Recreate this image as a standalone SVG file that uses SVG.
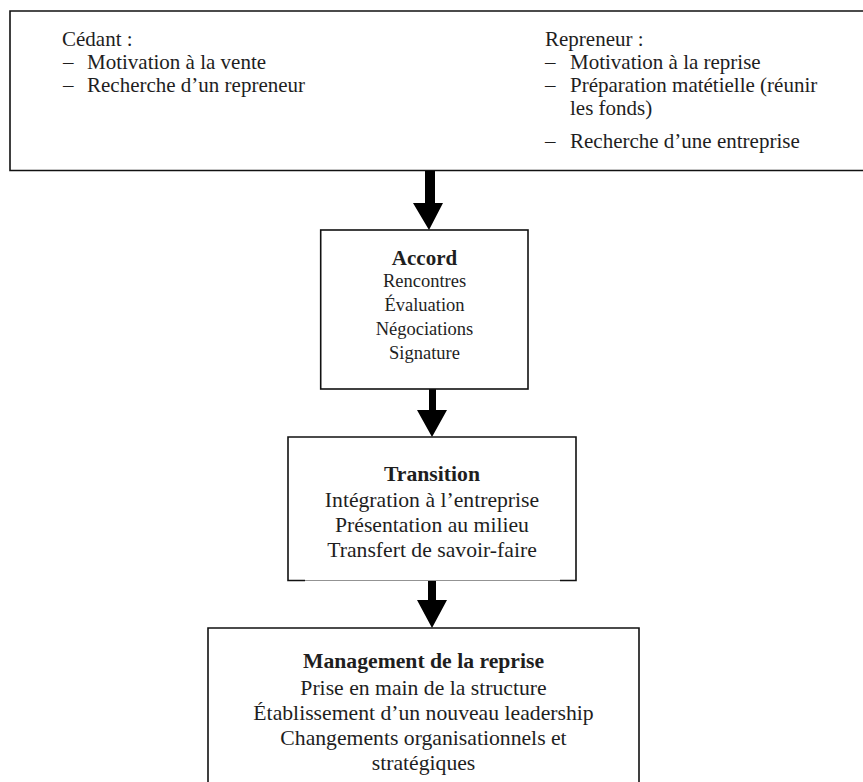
<svg xmlns="http://www.w3.org/2000/svg" width="863" height="782" viewBox="0 0 863 782">
<style>
  .box { fill: #fff; stroke: #111; stroke-width: 1.6; }
  .t { font-family: "Liberation Serif", "Times New Roman", serif; fill: #1e1e1e; }
  .top { font-size: 21px; }
  .c { text-anchor: middle; }
  .b { font-weight: bold; }
  .arrow { fill: #000; }
</style>
<rect width="863" height="782" fill="#fff"/>
<g id="top-box">
  <path class="box" d="M880,11 L10,11 L10,170.5 L880,170.5"/>
  <g class="t top">
    <text x="62" y="45.5">Cédant :</text>
    <text x="63" y="68.5">–</text><text x="87" y="68.5">Motivation à la vente</text>
    <text x="63" y="91.5">–</text><text x="87" y="91.5">Recherche d’un repreneur</text>
    <text x="545" y="45.5">Repreneur :</text>
    <text x="545" y="68.5">–</text><text x="570" y="68.5">Motivation à la reprise</text>
    <text x="545" y="91.5">–</text><text x="570" y="91.5">Préparation matétielle (réunir</text>
    <text x="570" y="115">les fonds)</text>
    <text x="545" y="148">–</text><text x="570" y="148">Recherche d’une entreprise</text>
  </g>
</g>
<g id="connectors">
  <polygon class="arrow" points="425,171 435,171 435,203 443,203 429,230 413,203 425,203"/>
  <polygon class="arrow" points="429,389 436,389 436,410 447,410 432,437 417,410 429,410"/>
  <polygon class="arrow" points="428,581 436,581 436,600 447,600 432,628 417,600 428,600"/>
</g>
<g id="accord">
  <rect class="box" x="320.7" y="230" width="207.3" height="159"/>
  <g class="t c">
    <text class="b" x="424.5" y="265" font-size="21">Accord</text>
    <text x="424.5" y="287" font-size="18.5">Rencontres</text>
    <text x="424.5" y="310.5" font-size="18.5">Évaluation</text>
    <text x="424.5" y="334.5" font-size="18.5">Négociations</text>
    <text x="424.5" y="359" font-size="18.5">Signature</text>
  </g>
</g>
<g id="transition">
  <path fill="#fff" stroke="none" d="M288,437 H576 V580.5 H288 Z"/>
  <path fill="none" stroke="#111" stroke-width="1.6" d="M305,580.5 H288 V437 H576 V580.5 H560"/>
  <line x1="305" y1="580.5" x2="560" y2="580.5" stroke="#777" stroke-width="0.8"/>
  <g class="t c" font-size="21.7">
    <text class="b" x="432" y="481">Transition</text>
    <text x="432" y="507">Intégration à l’entreprise</text>
    <text x="432" y="532">Présentation au milieu</text>
    <text x="432" y="557">Transfert de savoir-faire</text>
  </g>
</g>
<g id="management">
  <path class="box" d="M208,790 V628 H639 V790"/>
  <g class="t c" font-size="21.7">
    <text class="b" x="423.5" y="668">Management de la reprise</text>
    <text x="423.5" y="694.5">Prise en main de la structure</text>
    <text x="423.5" y="720">Établissement d’un nouveau leadership</text>
    <text x="423.5" y="745">Changements organisationnels et</text>
    <text x="423.5" y="770">stratégiques</text>
  </g>
</g>
</svg>
